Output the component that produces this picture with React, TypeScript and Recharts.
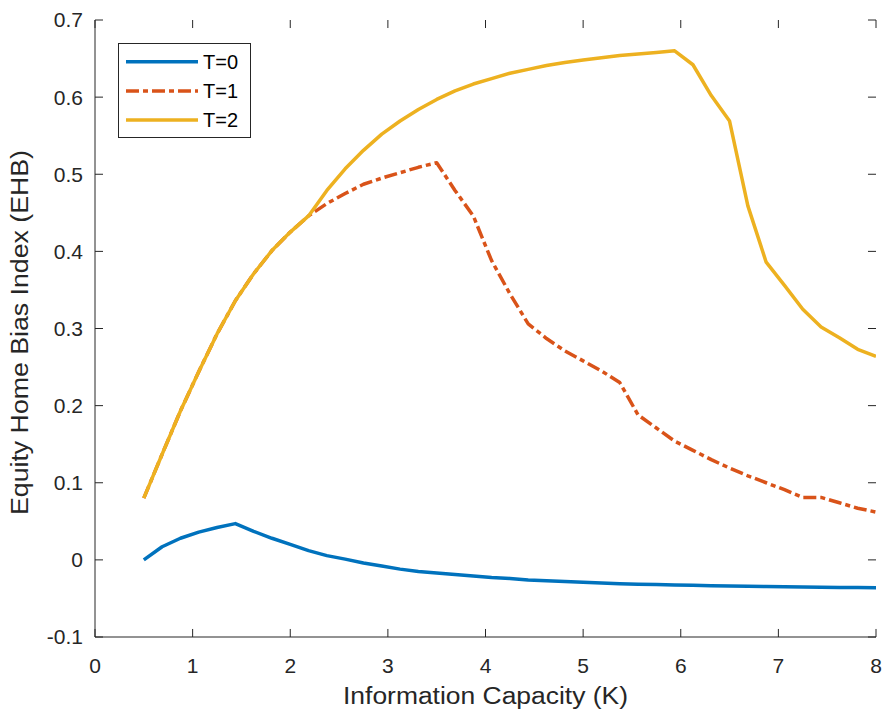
import { LineChart, Line, XAxis, YAxis, Legend, ReferenceLine } from 'recharts'

const capacity = [
  0.5, 0.6875, 0.875, 1.0625, 1.25, 1.4375, 1.625, 1.8125, 2, 2.1875, 2.375, 2.5625, 2.75, 2.9375,
  3.125, 3.3125, 3.5, 3.6875, 3.875, 4.0625, 4.25, 4.4375, 4.625, 4.8125, 5, 5.1875, 5.375, 5.5625,
  5.75, 5.9375, 6.125, 6.3125, 6.5, 6.6875, 6.875, 7.0625, 7.25, 7.4375, 7.625, 7.8125, 8,
]

const ehbT0 = [
  0, 0.017, 0.028, 0.036, 0.042, 0.047, 0.037, 0.028, 0.02, 0.012, 0.0055, 0.001, -0.004, -0.008,
  -0.012, -0.015, -0.017, -0.019, -0.021, -0.023, -0.024, -0.026, -0.027, -0.028, -0.029, -0.03,
  -0.031, -0.0315, -0.032, -0.0325, -0.033, -0.0335, -0.034, -0.0343, -0.0346, -0.0349, -0.0352,
  -0.0355, -0.0357, -0.0359, -0.036,
]

const ehbT1 = [
  0.08, 0.137, 0.193, 0.244, 0.293, 0.336, 0.371, 0.401, 0.425, 0.446, 0.462, 0.475, 0.487, 0.495,
  0.502, 0.509, 0.515, 0.479, 0.446, 0.388, 0.345, 0.306, 0.287, 0.271, 0.258, 0.245, 0.23, 0.188,
  0.171, 0.154, 0.142, 0.13, 0.119, 0.109, 0.1, 0.091, 0.081, 0.081, 0.074, 0.067, 0.062,
]

const ehbT2 = [
  0.08, 0.137, 0.193, 0.244, 0.293, 0.336, 0.371, 0.401, 0.425, 0.446, 0.479, 0.507, 0.531, 0.552,
  0.569, 0.584, 0.597, 0.608, 0.617, 0.624, 0.631, 0.636, 0.641, 0.645, 0.648, 0.651, 0.654, 0.656,
  0.658, 0.66, 0.642, 0.602, 0.569, 0.459, 0.386, 0.356, 0.325, 0.302, 0.288, 0.273, 0.264,
]

const xTicks = [0, 1, 2, 3, 4, 5, 6, 7, 8]
const yTicks = [-0.1, 0, 0.1, 0.2, 0.3, 0.4, 0.5, 0.6, 0.7]

const data = capacity.map((k, i) => ({ k, t0: ehbT0[i], t1: ehbT1[i], t2: ehbT2[i] }))

const FONT = "'Liberation Sans', Arial, Helvetica, sans-serif"
const AXIS = '#262626'
const X_MIN = 0, X_MAX = 8, Y_MIN = -0.1, Y_MAX = 0.7
// inward tick length (~8px) in data units
const TX = 0.082, TY = 0.0104

const fmtY = (v: number) => (Math.abs(v) < 1e-9 ? '0' : String(Math.round(v * 10) / 10))

function XTitle({ viewBox }: any) {
  const cx = viewBox.x + viewBox.width / 2
  return (
    <text x={cx} y={viewBox.y + 67} textAnchor='middle' fontSize={23} fill={AXIS} fontFamily={FONT}
      textLength={285} lengthAdjust='spacingAndGlyphs'>
      Information Capacity (K)
    </text>
  )
}

function YTitle({ viewBox }: any) {
  const cy = viewBox.y + viewBox.height / 2 + 4
  return (
    <text x={28} y={cy} transform={`rotate(-90, 28, ${cy})`} textAnchor='middle' fontSize={23}
      fill={AXIS} fontFamily={FONT} textLength={365} lengthAdjust='spacingAndGlyphs'>
      Equity Home Bias Index (EHB)
    </text>
  )
}

function LegendBox({ payload }: any) {
  return (
    <div style={{ width: 133, height: 95, border: `1px solid ${AXIS}`, background: '#fff', boxSizing: 'border-box' }}>
      <svg width={131} height={93}>
        {(payload || []).map((p: any, i: number) => {
          const y = 17.7 + i * 29.2
          return (
            <g key={p.value}>
              <line x1={7} x2={79} y1={y} y2={y} stroke={p.color} strokeWidth={3.5}
                strokeDasharray={p.payload?.strokeDasharray} />
              <text x={84} y={y + 7} fontSize={20} fill='#000' fontFamily={FONT}>{p.value}</text>
            </g>
          )
        })}
      </svg>
    </div>
  )
}

// box ticks on all four sides, pointing inward
const tickSegments = [
  ...xTicks.map((t) => [{ x: t, y: Y_MIN }, { x: t, y: Y_MIN + TY }]),
  ...xTicks.map((t) => [{ x: t, y: Y_MAX }, { x: t, y: Y_MAX - TY }]),
  ...yTicks.map((t) => [{ x: X_MIN, y: t }, { x: X_MIN + TX, y: t }]),
  ...yTicks.map((t) => [{ x: X_MAX, y: t }, { x: X_MAX - TX, y: t }]),
]

export default function App() {
  return (
    <div style={{ position: 'absolute', left: 0, top: 0, background: '#fff' }}>
      <LineChart width={883} height={713} data={data} margin={{ top: 20, right: 7, left: 0, bottom: 0 }}>
        <XAxis dataKey='k' type='number' domain={[X_MIN, X_MAX]} ticks={xTicks} allowDataOverflow
          height={76} tickLine={false} tickMargin={15} stroke={AXIS}
          tick={{ fill: AXIS, fontSize: 21, fontFamily: FONT }} label={<XTitle />} />
        <XAxis xAxisId='top' dataKey='k' type='number' domain={[X_MIN, X_MAX]} orientation='top'
          height={0} tick={false} tickLine={false} stroke={AXIS} />
        <YAxis type='number' domain={[Y_MIN, Y_MAX]} ticks={yTicks} allowDataOverflow width={95}
          tickLine={false} tickMargin={6} stroke={AXIS} tickFormatter={fmtY}
          tick={{ fill: AXIS, fontSize: 21, fontFamily: FONT }} label={<YTitle />} />
        <YAxis yAxisId='right' type='number' domain={[Y_MIN, Y_MAX]} orientation='right'
          width={0} tick={false} tickLine={false} stroke={AXIS} />
        {tickSegments.map((seg, i) => (
          <ReferenceLine key={i} segment={seg} stroke={AXIS} strokeWidth={1} />
        ))}
        <Legend layout='vertical' align='center' verticalAlign='middle' content={<LegendBox />}
          wrapperStyle={{ left: 118, top: 43, width: 133, height: 95 }} />
        <Line type='linear' dataKey='t0' name='T=0' stroke='#0072BD' strokeWidth={3.5} dot={false}
          isAnimationActive={false} strokeLinejoin='round' />
        <Line type='linear' dataKey='t1' name='T=1' stroke='#D95319' strokeWidth={3.5} dot={false}
          strokeDasharray='13 4 5 4' isAnimationActive={false} strokeLinejoin='round' />
        <Line type='linear' dataKey='t2' name='T=2' stroke='#EDB120' strokeWidth={3.5} dot={false}
          isAnimationActive={false} strokeLinejoin='round' />
      </LineChart>
    </div>
  )
}
